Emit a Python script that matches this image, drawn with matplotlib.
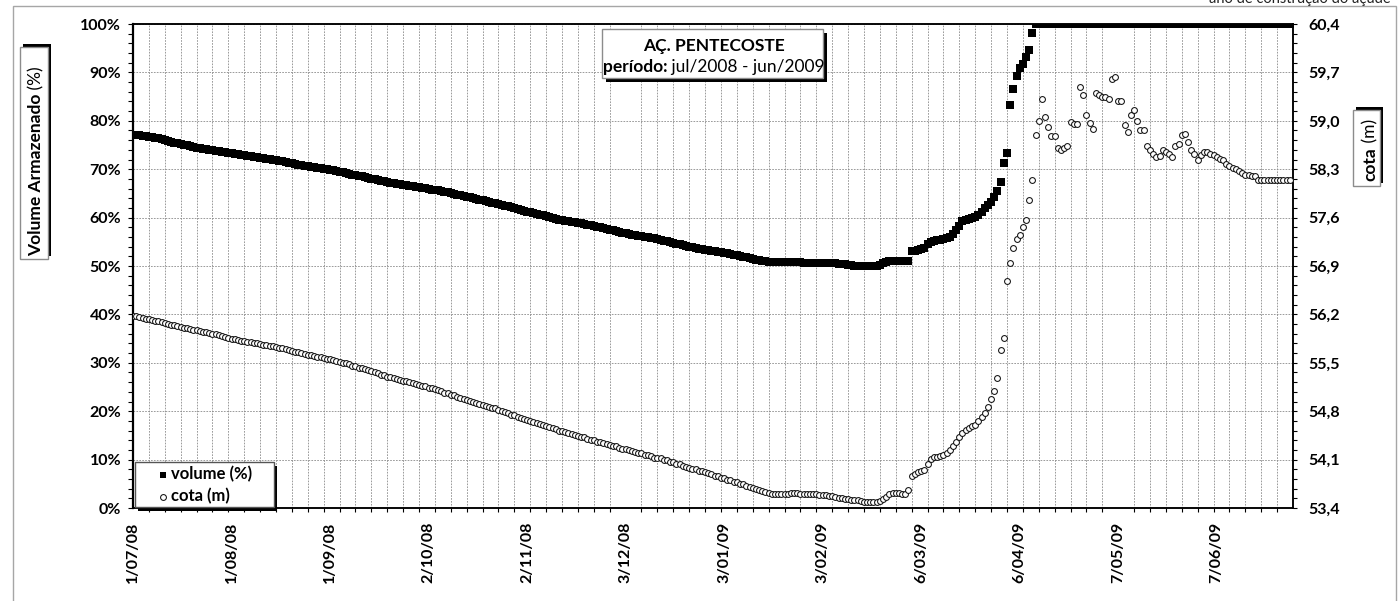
import numpy as np
import matplotlib
matplotlib.use('Agg')
import matplotlib.pyplot as plt
from matplotlib.patches import Rectangle
from matplotlib.lines import Line2D
from matplotlib.ticker import FixedLocator

plt.rcParams['font.family'] = ['Lato', 'DejaVu Sans']
plt.rcParams['font.weight'] = 'bold'

# ---------------- data ----------------
START = '2008-07-01'
END = '2009-07-01'

volume_pct = [
    77.1, 77.0, 77.0, 76.9, 76.8, 76.7, 76.6, 76.5, 76.4, 76.2,
    76.0, 75.9, 75.7, 75.5, 75.4, 75.2, 75.1, 74.9, 74.8, 74.6,
    74.4, 74.3, 74.2, 74.1, 74.0, 73.9, 73.8, 73.7, 73.6, 73.5,
    73.4, 73.3, 73.2, 73.1, 73.0, 72.9, 72.8, 72.7, 72.6, 72.5,
    72.4, 72.3, 72.2, 72.1, 72.0, 71.8, 71.7, 71.6, 71.5, 71.3,
    71.2, 71.1, 70.9, 70.8, 70.7, 70.6, 70.5, 70.4, 70.3, 70.2,
    70.1, 70.0, 69.9, 69.8, 69.7, 69.5, 69.4, 69.2, 69.1, 68.9,
    68.8, 68.6, 68.5, 68.3, 68.2, 68.0, 67.9, 67.8, 67.6, 67.5,
    67.4, 67.2, 67.1, 67.0, 66.9, 66.8, 66.7, 66.6, 66.5, 66.4,
    66.3, 66.2, 66.1, 66.0, 65.8, 65.7, 65.6, 65.5, 65.3, 65.2,
    65.0, 64.9, 64.7, 64.6, 64.4, 64.3, 64.2, 64.0, 63.9, 63.7,
    63.6, 63.4, 63.3, 63.1, 63.0, 62.8, 62.6, 62.5, 62.3, 62.1,
    61.9, 61.8, 61.6, 61.4, 61.2, 61.1, 60.9, 60.8, 60.6, 60.5,
    60.3, 60.1, 60.0, 59.8, 59.6, 59.5, 59.4, 59.2, 59.1, 59.0,
    58.9, 58.8, 58.6, 58.5, 58.4, 58.3, 58.1, 58.0, 57.8, 57.7,
    57.5, 57.4, 57.2, 57.1, 56.9, 56.8, 56.7, 56.5, 56.4, 56.3,
    56.2, 56.0, 55.9, 55.8, 55.7, 55.5, 55.4, 55.2, 55.1, 54.9,
    54.8, 54.6, 54.5, 54.3, 54.2, 54.0, 53.9, 53.7, 53.6, 53.5,
    53.4, 53.3, 53.1, 53.0, 52.9, 52.8, 52.7, 52.6, 52.4, 52.3,
    52.2, 52.0, 51.9, 51.8, 51.6, 51.5, 51.3, 51.2, 51.1, 51.0,
    50.9, 50.8, 50.8, 50.8, 50.8, 50.8, 50.8, 50.8, 50.8, 50.8,
    50.8, 50.7, 50.7, 50.7, 50.7, 50.7, 50.7, 50.7, 50.7, 50.6,
    50.6, 50.6, 50.5, 50.4, 50.4, 50.3, 50.2, 50.1, 50.0, 50.0,
    49.9, 49.9, 49.9, 49.9, 49.9, 50.2, 50.6, 50.9, 51.0, 51.0,
    51.0, 51.0, 51.0, 51.0, 51.0, 53.0, 53.2, 53.3, 53.5, 53.7,
    54.5, 54.9, 55.1, 55.3, 55.4, 55.5, 55.7, 56.0, 56.6, 57.4,
    58.3, 59.2, 59.5, 59.7, 59.9, 60.1, 60.5, 61.1, 62.0, 62.6,
    63.3, 64.2, 65.4, 67.3, 71.3, 73.3, 83.3, 86.6, 89.3, 91.0,
    91.7, 93.2, 94.6, 98.1,
    100.0, 100.0, 100.0, 100.0, 100.0, 100.0, 100.0, 100.0, 100.0,
    100.0, 100.0, 100.0, 100.0, 100.0, 100.0, 100.0, 100.0, 100.0,
    100.0, 100.0, 100.0, 100.0, 100.0, 100.0, 100.0, 100.0, 100.0,
    100.0, 100.0, 100.0, 100.0, 100.0, 100.0, 100.0, 100.0, 100.0,
    100.0, 100.0, 100.0, 100.0, 100.0, 100.0, 100.0, 100.0, 100.0,
    100.0, 100.0, 100.0, 100.0, 100.0, 100.0, 100.0, 100.0, 100.0,
    100.0, 100.0, 100.0, 100.0, 100.0, 100.0, 100.0, 100.0, 100.0,
    100.0, 100.0, 100.0, 100.0, 100.0, 100.0, 100.0, 100.0, 100.0,
    100.0, 100.0, 100.0, 100.0, 100.0, 100.0, 100.0, 100.0, 100.0,
]

cota_m = [
    56.18, 56.17, 56.16, 56.15, 56.14, 56.13, 56.12, 56.11, 56.10, 56.09,
    56.07, 56.06, 56.05, 56.04, 56.03, 56.02, 56.01, 56.00, 55.99, 55.98,
    55.97, 55.96, 55.95, 55.94, 55.93, 55.92, 55.91, 55.90, 55.89, 55.87,
    55.86, 55.85, 55.84, 55.83, 55.82, 55.81, 55.80, 55.80, 55.79, 55.78,
    55.77, 55.76, 55.76, 55.75, 55.74, 55.73, 55.72, 55.71, 55.70, 55.69,
    55.67, 55.66, 55.65, 55.64, 55.63, 55.62, 55.61, 55.60, 55.59, 55.58,
    55.57, 55.56, 55.55, 55.54, 55.53, 55.51, 55.50, 55.49, 55.48, 55.46,
    55.45, 55.43, 55.42, 55.41, 55.39, 55.38, 55.36, 55.35, 55.33, 55.32,
    55.30, 55.29, 55.28, 55.26, 55.25, 55.24, 55.23, 55.22, 55.21, 55.19,
    55.18, 55.17, 55.16, 55.14, 55.13, 55.12, 55.10, 55.09, 55.07, 55.06,
    55.04, 55.03, 55.01, 54.99, 54.98, 54.96, 54.95, 54.93, 54.92, 54.90,
    54.89, 54.87, 54.86, 54.85, 54.84, 54.82, 54.80, 54.79, 54.77, 54.75,
    54.74, 54.72, 54.70, 54.69, 54.67, 54.66, 54.64, 54.63, 54.61, 54.60,
    54.58, 54.57, 54.55, 54.54, 54.52, 54.51, 54.50, 54.48, 54.47, 54.46,
    54.44, 54.43, 54.42, 54.40, 54.39, 54.38, 54.36, 54.35, 54.34, 54.32,
    54.31, 54.30, 54.29, 54.27, 54.26, 54.25, 54.24, 54.22, 54.21, 54.20,
    54.19, 54.17, 54.16, 54.15, 54.13, 54.12, 54.12, 54.10, 54.09, 54.07,
    54.06, 54.04, 54.03, 54.01, 54.00, 53.98, 53.97, 53.96, 53.94, 53.93,
    53.92, 53.90, 53.89, 53.87, 53.86, 53.84, 53.83, 53.81, 53.80, 53.78,
    53.77, 53.75, 53.74, 53.72, 53.71, 53.69, 53.68, 53.66, 53.64, 53.63,
    53.61, 53.60, 53.60, 53.60, 53.60, 53.60, 53.60, 53.62, 53.62, 53.62,
    53.60, 53.60, 53.60, 53.60, 53.60, 53.60, 53.59, 53.59, 53.59, 53.58,
    53.57, 53.56, 53.55, 53.54, 53.53, 53.53, 53.52, 53.51, 53.51, 53.50,
    53.49, 53.49, 53.49, 53.49, 53.49, 53.50, 53.53, 53.56, 53.60, 53.61,
    53.61, 53.61, 53.60, 53.60, 53.66,
    53.86, 53.89, 53.92, 53.94, 53.95,
    54.04, 54.11, 54.14, 54.14, 54.15,
    54.16, 54.19, 54.24, 54.29, 54.36,
    54.42, 54.49, 54.53, 54.56, 54.58,
    54.60, 54.66, 54.72, 54.77, 54.86,
    54.97, 55.09, 55.28, 55.68, 55.86,
    56.69, 56.94, 57.16, 57.29, 57.35,
    57.47, 57.57, 57.85, 58.15, 58.80,
    59.00, 59.32, 59.06, 58.91, 58.78,
    58.78, 58.60, 58.58, 58.60, 58.64,
    58.98, 58.95, 58.95, 59.49, 59.38,
    59.09, 58.97, 58.88, 59.40, 59.38,
    59.34, 59.34, 59.32, 59.60, 59.64,
    59.29, 59.29, 58.94, 58.84, 59.09,
    59.15, 58.99, 58.86, 58.86, 58.64,
    58.58, 58.52, 58.48, 58.49, 58.58,
    58.55, 58.52, 58.47, 58.64, 58.67,
    58.80, 58.81, 58.69, 58.58, 58.52,
    58.43, 58.50, 58.55, 58.55, 58.52,
    58.50, 58.48, 58.45, 58.43, 58.38,
    58.35, 58.32, 58.30, 58.28, 58.25,
    58.22, 58.21, 58.20, 58.20, 58.15,
    58.15, 58.15, 58.15, 58.15, 58.15, 58.15, 58.15, 58.15, 58.15, 58.15,
]

tick_dates = ['2008-07-01', '2008-08-01', '2008-09-01', '2008-10-02', '2008-11-02',
              '2008-12-03', '2009-01-03', '2009-02-03', '2009-03-06', '2009-04-06',
              '2009-05-07', '2009-06-07']
tick_labels = ['1/07/08', '1/08/08', '1/09/08', '2/10/08', '2/11/08', '3/12/08',
               '3/01/09', '3/02/09', '6/03/09', '6/04/09', '7/05/09', '7/06/09']
pct_ticks = [0, 10, 20, 30, 40, 50, 60, 70, 80, 90, 100]
pct_labels = ['0%', '10%', '20%', '30%', '40%', '50%', '60%', '70%', '80%', '90%', '100%']
cota_ticks = [53.4, 54.1, 54.8, 55.5, 56.2, 56.9, 57.6, 58.3, 59.0, 59.7, 60.4]
cota_labels = ['53,4', '54,1', '54,8', '55,5', '56,2', '56,9', '57,6', '58,3', '59,0', '59,7', '60,4']

title1 = 'AÇ. PENTECOSTE'
title2a = 'período:'
title2b = ' jul/2008 - jun/2009'
corner_note = 'ano de construção do açude'

# ---------------- figure ----------------
W, H = 1398, 601
fig = plt.figure(figsize=(W / 100, H / 100), dpi=100)
fig.patch.set_facecolor('white')


def fx(x):
    return x / W


def fy(y):
    return 1 - y / H


# outer chart-area border
fig.add_artist(Rectangle((fx(13), fy(640)), (1396 - 13) / W, (640 - 6) / H,
                         transform=fig.transFigure, fill=False, ec='#a6a6a6', lw=1.0, zorder=0))
fig.text(fx(1300), fy(3), corner_note, ha='center', va='baseline', fontsize=10.5,
         fontweight='normal', color='#222222')

ax = fig.add_axes([fx(133), fy(508), (1293 - 133) / W, (508 - 24) / H])
ax2 = ax.twinx()

vol_dates = np.datetime64(START) + np.arange(len(volume_pct))
cota_dates = np.datetime64(START) + np.arange(len(cota_m))

SQ = 5.2
CI = 4.2
ax.plot(vol_dates, volume_pct, ls='none', marker='s', ms=SQ, mfc='black', mec='black',
        mew=0, zorder=3)
ax2.plot(cota_dates, cota_m, ls='none', marker='o', ms=CI, mfc='white', mec='#111111',
         mew=0.75, zorder=3)

x0 = np.datetime64(START)
x1 = np.datetime64(END)
ax.set_xlim(x0, x1)
ax.set_ylim(0, 100)
ax2.set_ylim(53.4, 60.4)

# x ticks
ax.set_xticks(np.array(tick_dates, dtype='datetime64[D]'))
ax.set_xticklabels(tick_labels, rotation=90, fontsize=11.5, fontweight='bold')
grid_days = x0 + np.arange(5, 365, 5)
ax.xaxis.set_minor_locator(FixedLocator(matplotlib.dates.date2num(grid_days)))
ax.tick_params(axis='x', which='major', length=0, pad=10)
ax.tick_params(axis='x', which='minor', length=3, width=0.8, direction='out')

# left y ticks
ax.set_yticks(pct_ticks)
ax.set_yticklabels(pct_labels, fontsize=11.5, fontweight='bold')
ax.yaxis.set_minor_locator(FixedLocator(np.arange(0, 101, 2)))
ax.tick_params(axis='y', which='both', length=3.5, width=0.8, direction='out', pad=5)

# right y ticks
ax2.set_yticks(cota_ticks)
ax2.set_yticklabels(cota_labels, fontsize=11.5, fontweight='bold')
ax2.yaxis.set_minor_locator(FixedLocator(np.linspace(53.4, 60.4, 51)))
ax2.tick_params(axis='y', which='both', length=3, width=0.8, direction='out', pad=8)

# gridlines
ax.grid(which='minor', axis='x', color='#8a8a8a', lw=0.6, ls=(0, (2, 1.5)))
ax.grid(which='major', axis='y', color='#8a8a8a', lw=0.6, ls=(0, (2, 1.5)))
ax.set_axisbelow(True)

for a in (ax, ax2):
    for s in a.spines.values():
        s.set_color('black')
        s.set_linewidth(1.1)
ax.spines['left'].set_linewidth(1.6)


def shadow_box(xa, ya, xb, yb, dx, dy, ec='#8c8c8c'):
    fig.add_artist(Rectangle((fx(xa + dx), fy(yb + dy)), (xb - xa) / W, (yb - ya) / H,
                             transform=fig.transFigure, fc='black', ec='none', zorder=5))
    fig.add_artist(Rectangle((fx(xa), fy(yb)), (xb - xa) / W, (yb - ya) / H,
                             transform=fig.transFigure, fc='white', ec=ec, lw=1.0, zorder=6))


# title box
shadow_box(602, 29, 823, 78, 4, 4)
fig.text(fx(714), fy(51.5), title1, ha='center', va='baseline', fontsize=12.5,
         fontweight='bold', zorder=7)
t2a = fig.text(0, fy(72), title2a, ha='left', va='baseline', fontsize=12.5,
               fontweight='bold', zorder=7)
t2b = fig.text(0, fy(72), title2b, ha='left', va='baseline', fontsize=12.5,
               fontweight='normal', zorder=7)

# legend box
shadow_box(135, 462, 274, 507, 3, 4, ec='#555555')
fig.add_artist(Line2D([fx(163)], [fy(475)], transform=fig.transFigure, ls='none', marker='s',
                      ms=4.9, mfc='black', mec='black', mew=0, zorder=7))
fig.add_artist(Line2D([fx(163)], [fy(497)], transform=fig.transFigure, ls='none', marker='o',
                      ms=CI, mfc='white', mec='#111111', mew=0.75, zorder=7))
fig.text(fx(171), fy(474.5), 'volume (%)', ha='left', va='center', fontsize=12,
         fontweight='bold', zorder=7)
fig.text(fx(171), fy(496.5), 'cota (m)', ha='left', va='center', fontsize=12,
         fontweight='bold', zorder=7)

# left axis label box (rotated, shadow towards top-right)
shadow_box(20, 47, 48, 259, 3, -3)
yl1 = fig.text(fx(41.5), fy(256), 'Volume Armazenado', rotation=90, rotation_mode='anchor',
               ha='left', va='baseline', fontsize=12.5, fontweight='bold', zorder=7)
yl2 = fig.text(fx(41.5), 0, ' (%)', rotation=90, rotation_mode='anchor',
               ha='left', va='baseline', fontsize=12.5, fontweight='normal', zorder=7)

# right axis label box
shadow_box(1353, 110, 1380, 186, 3, -3)
yr1 = fig.text(fx(1375), fy(181), 'cota', rotation=90, rotation_mode='anchor',
               ha='left', va='baseline', fontsize=12.5, fontweight='bold', zorder=7)
yr2 = fig.text(fx(1375), 0, ' (m)', rotation=90, rotation_mode='anchor',
               ha='left', va='baseline', fontsize=12.5, fontweight='normal', zorder=7)

# position the mixed-weight text pieces
fig.canvas.draw()
r = fig.canvas.get_renderer()
wa = t2a.get_window_extent(r).width
wb = t2b.get_window_extent(r).width
start = 714 - (wa + wb) / 2
t2a.set_x(fx(start))
t2b.set_x(fx(start + wa))
yl2.set_y(yl1.get_window_extent(r).y1 / H)
yr2.set_y(yr1.get_window_extent(r).y1 / H)

fig.savefig('out.png', dpi=100, facecolor='white')
